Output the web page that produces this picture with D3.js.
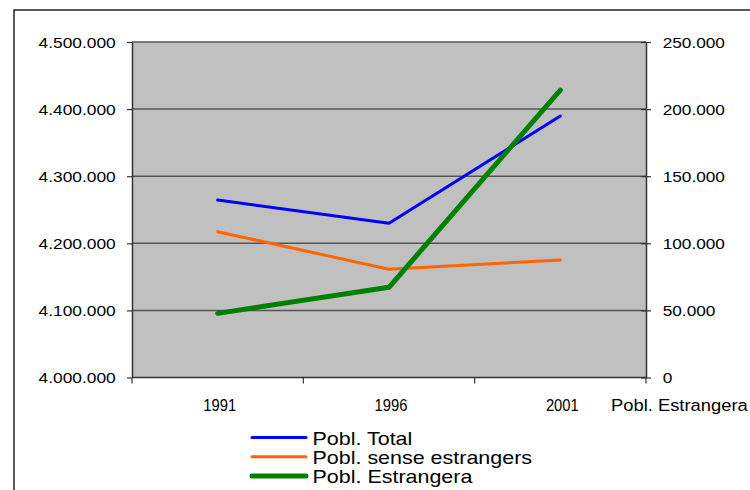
<!DOCTYPE html>
<html>
<head>
<meta charset="utf-8">
<script src="https://cdn.jsdelivr.net/npm/d3@7"></script>
<style>
  html, body { margin: 0; padding: 0; background: #fff; }
  svg { display: block; font-family: "Liberation Sans", Arial, sans-serif; }
</style>
</head>
<body>
<svg id="chart" width="750" height="490"></svg>
<script>
// ---- data ----
const categories = ["1991", "1996", "2001"];
const poblTotal = [4264500, 4229800, 4389700];
const poblSenseEstrangers = [4217300, 4161300, 4175100];
const poblEstrangera = [47800, 67200, 214200];
const leftTicks = [4000000, 4100000, 4200000, 4300000, 4400000, 4500000];
const rightTicks = [0, 50000, 100000, 150000, 200000, 250000];
const secondaryAxisLabel = "Pobl. Estrangera";
const seriesNames = ["Pobl. Total", "Pobl. sense estrangers", "Pobl. Estrangera"];

// ---- layout ----
const svg = d3.select("#chart");
const plot = { left: 132, right: 646, top: 42, bottom: 377.5 };

const locale = d3.formatLocale({ decimal: ",", thousands: ".", grouping: [3], currency: ["", "€"] });
const fmt = locale.format(",d");

const x = d3.scaleBand().domain(categories).range([plot.left, plot.right]).padding(0);
const yL = d3.scaleLinear().domain([4000000, 4500000]).range([plot.bottom, plot.top]);
const yR = d3.scaleLinear().domain([0, 250000]).range([plot.bottom, plot.top]);

// outer frame (continues beyond window)
svg.append("rect").attr("x", 14).attr("y", 10).attr("width", 800).attr("height", 600)
  .attr("fill", "#fff").attr("stroke", "#000").attr("stroke-width", 1.3);

// plot background
svg.append("rect").attr("x", plot.left).attr("y", plot.top)
  .attr("width", plot.right - plot.left).attr("height", plot.bottom - plot.top)
  .attr("fill", "#c0c0c0");

// gridlines
svg.append("g").selectAll("line").data(leftTicks.slice(1)).join("line")
  .attr("x1", plot.left).attr("x2", plot.right)
  .attr("y1", d => yL(d)).attr("y2", d => yL(d))
  .attr("stroke", "#555").attr("stroke-width", 1.5);

// left axis
const gL = svg.append("g").attr("transform", `translate(${plot.left},0)`)
  .call(d3.axisLeft(yL).tickValues(leftTicks).tickFormat(fmt).tickSizeOuter(0).tickSizeInner(5));
gL.select(".domain").attr("stroke", "#333").attr("stroke-width", 1.5);
gL.selectAll(".tick line").attr("stroke", "#333").attr("stroke-width", 1.2);
gL.selectAll(".tick text").attr("x", null).attr("dy", "0.36em")
  .attr("font-size", 14).attr("fill", "#000")
  .attr("transform", "translate(-16.3,0) scale(1.24,1)");

// right axis
const gR = svg.append("g").attr("transform", `translate(${plot.right},0)`)
  .call(d3.axisRight(yR).tickValues(rightTicks).tickFormat(fmt).tickSizeOuter(0).tickSizeInner(5));
gR.select(".domain").attr("stroke", "#333").attr("stroke-width", 1.5);
gR.selectAll(".tick line").attr("x1", -5).attr("stroke", "#333").attr("stroke-width", 1.2);
gR.selectAll(".tick text").attr("x", null).attr("dy", "0.36em")
  .attr("font-size", 14).attr("fill", "#000")
  .attr("transform", "translate(16.7,0) scale(1.23,1)");

// bottom axis
const gB = svg.append("g").attr("transform", `translate(0,${plot.bottom})`);
gB.append("line").attr("x1", plot.left).attr("x2", plot.right)
  .attr("stroke", "#333").attr("stroke-width", 1.5);
const bounds = categories.map(c => x(c)).concat([x(categories[categories.length - 1]) + x.bandwidth()]);
gB.selectAll("line.tk").data(bounds).join("line").attr("class", "tk")
  .attr("x1", d => d).attr("x2", d => d).attr("y1", 0).attr("y2", 6)
  .attr("stroke", "#333").attr("stroke-width", 1.2);
gB.selectAll("text.cat").data(categories).join("text").attr("class", "cat")
  .attr("transform", d => `translate(${x(d) + x.bandwidth() / 2 + 2},33.5) scale(0.87,1)`)
  .attr("text-anchor", "middle").attr("font-size", 17).attr("fill", "#000")
  .text(d => d);
gB.append("text")
  .attr("transform", "translate(611,33.5) scale(1.08,1)")
  .attr("font-size", 17).attr("fill", "#000").text(secondaryAxisLabel);

// lines
const colors = ["#0000ff", "#ff6600", "#008000"];
const widths = [3, 3, 5];
const lineL = d3.line().x((d, i) => x(categories[i]) + x.bandwidth() / 2).y(d => yL(d));
const lineR = d3.line().x((d, i) => x(categories[i]) + x.bandwidth() / 2).y(d => yR(d));

svg.append("path").datum(poblSenseEstrangers).attr("d", lineL)
  .attr("fill", "none").attr("stroke", colors[1]).attr("stroke-width", widths[1])
  .attr("stroke-linecap", "round").attr("stroke-linejoin", "round");
svg.append("path").datum(poblTotal).attr("d", lineL)
  .attr("fill", "none").attr("stroke", colors[0]).attr("stroke-width", widths[0])
  .attr("stroke-linecap", "round").attr("stroke-linejoin", "round");
svg.append("path").datum(poblEstrangera).attr("d", lineR)
  .attr("fill", "none").attr("stroke", colors[2]).attr("stroke-width", widths[2])
  .attr("stroke-linecap", "round").attr("stroke-linejoin", "round");

// legend
const leg = svg.append("g");
const rows = leg.selectAll("g").data(seriesNames).join("g")
  .attr("transform", (d, i) => `translate(0,${437.5 + i * 19.3})`);
rows.append("line").attr("x1", 252).attr("x2", 306)
  .attr("stroke", (d, i) => colors[i]).attr("stroke-width", (d, i) => widths[i])
  .attr("stroke-linecap", "round");
rows.append("text").attr("transform", "translate(312.5,7) scale(1.13,1)")
  .attr("font-size", 19).attr("fill", "#000").text(d => d);
</script>
</body>
</html>
